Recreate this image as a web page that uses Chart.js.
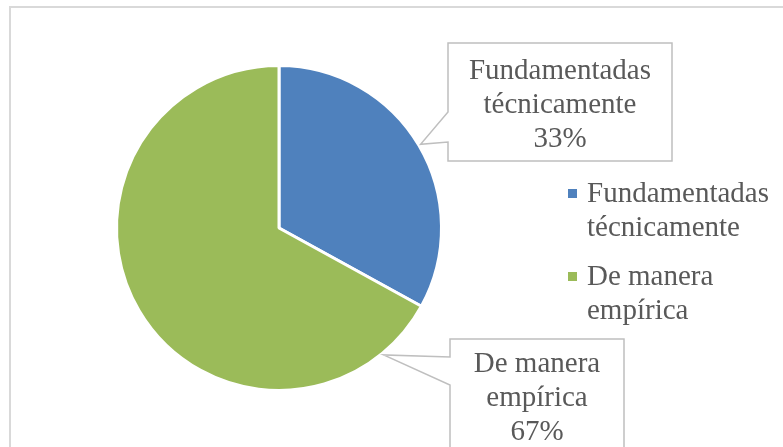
<!DOCTYPE html>
<html>
<head>
<meta charset="utf-8">
<script src="https://cdn.jsdelivr.net/npm/chart.js@4"></script>
<style>
  body { margin: 0; background: #fff; }
  canvas { display: block; }
</style>
</head>
<body>
<canvas id="pieChart" width="783" height="447"></canvas>
<script>
// datos del grafico
var categorias = ["Fundamentadas técnicamente", "De manera empírica"];
var lineasLeyenda = [["Fundamentadas", "técnicamente"], ["De manera", "empírica"]];
var porcentajes = [33, 67];
var colores = ["#4F81BD", "#9BBB59"];

var fuente = "29px 'Liberation Serif', 'Times New Roman', serif";
var gris = "#595959";

// etiquetas tipo globo + leyenda dibujadas a mano
var extras = {
  id: "extras",
  afterDraw: function (chart) {
    var c = chart.ctx;
    var arcs = chart.getDatasetMeta(0).data;
    c.save();

    // marco del grafico
    c.strokeStyle = "#d9d9d9";
    c.lineWidth = 2;
    c.strokeRect(10, 7, 800, 460);

    // globos
    var globos = [
      { box: [448, 43, 672, 161], base: [112, 142], frac: 0.5, textY: 71 },
      { box: [450, 339, 624, 470], base: [357, 385], frac: 0.09, textY: 364 },
    ];
    globos.forEach(function (g, i) {
      var a = arcs[i];
      var ang = a.startAngle + g.frac * (a.endAngle - a.startAngle);
      var r = a.outerRadius + 2;
      var tx = a.x + Math.cos(ang) * r;
      var ty = a.y + Math.sin(ang) * r;
      var b = g.box;
      c.beginPath();
      c.moveTo(b[0], b[1]);
      c.lineTo(b[2], b[1]);
      c.lineTo(b[2], b[3]);
      c.lineTo(b[0], b[3]);
      c.lineTo(b[0], g.base[1]);
      c.lineTo(tx, ty);
      c.lineTo(b[0], g.base[0]);
      c.closePath();
      c.fillStyle = "#fff";
      c.fill();
      c.strokeStyle = "#bfbfbf";
      c.lineWidth = 1.5;
      c.stroke();

      c.fillStyle = gris;
      c.font = fuente;
      c.textAlign = "center";
      c.textBaseline = "middle";
      var cx = (b[0] + b[2]) / 2;
      var lineas = lineasLeyenda[i].concat([porcentajes[i] + "%"]);
      lineas.forEach(function (t, k) {
        c.fillText(t, cx, g.textY + k * 34);
      });
    });

    // leyenda
    var ly = [194, 277];
    c.font = fuente;
    c.textAlign = "left";
    c.textBaseline = "middle";
    categorias.forEach(function (cat, i) {
      c.fillStyle = colores[i];
      c.fillRect(568, ly[i] - 5, 9, 9);
      c.fillStyle = gris;
      lineasLeyenda[i].forEach(function (t, k) {
        c.fillText(t, 587, ly[i] + k * 34);
      });
    });
    c.restore();
  },
};

var ctx = document.getElementById("pieChart").getContext("2d");
var pieChart = new Chart(ctx, {
  type: "pie",
  data: {
    labels: categorias,
    datasets: [
      {
        data: porcentajes,
        backgroundColor: colores,
        borderColor: "#ffffff",
        borderWidth: 3,
      },
    ],
  },
  options: {
    responsive: false,
    animation: false,
    layout: {
      padding: { left: 115, right: 340, top: 64, bottom: 55 },
    },
    plugins: {
      legend: { display: false },
      tooltip: { enabled: false },
    },
  },
  plugins: [extras],
});
</script>
</body>
</html>
